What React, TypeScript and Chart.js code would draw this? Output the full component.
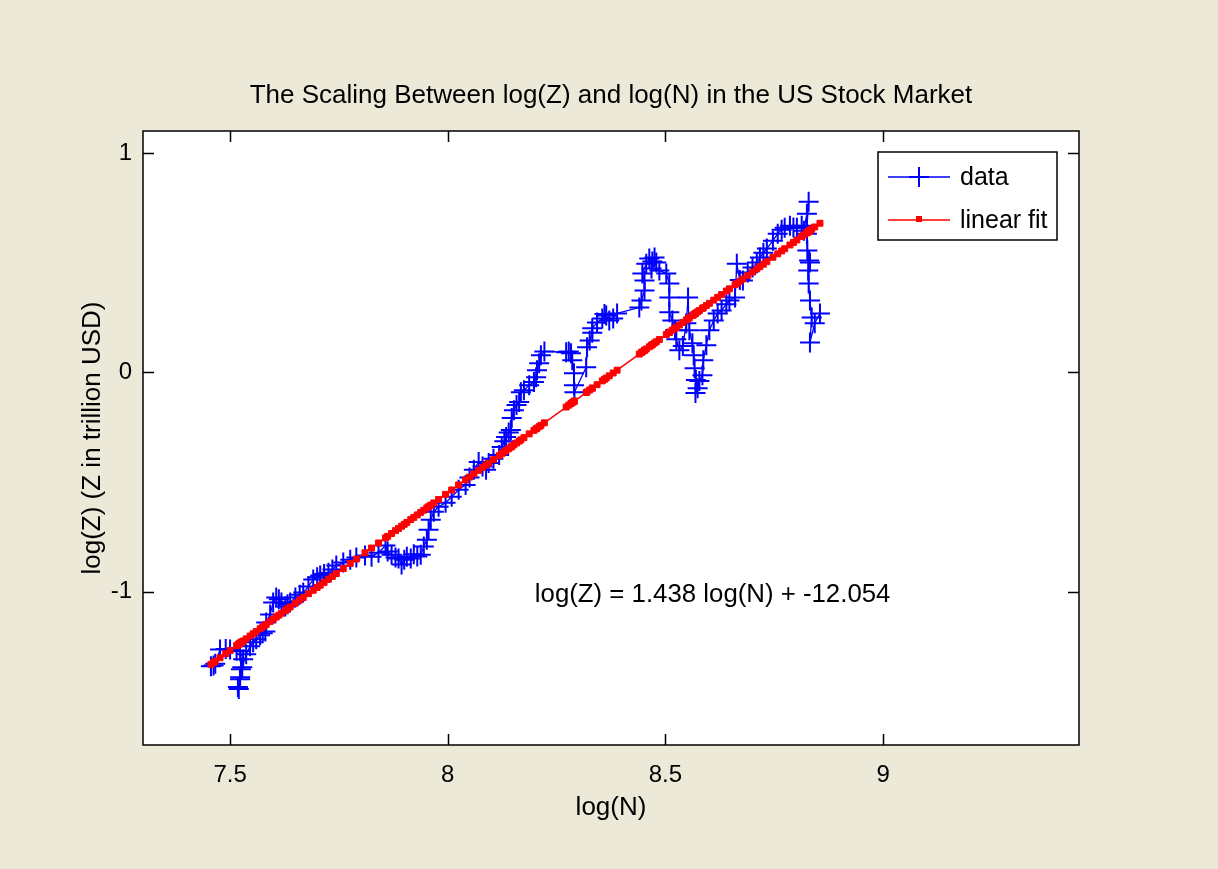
import React, { useEffect, useRef } from 'react';
import { Chart, registerables } from 'chart.js';

Chart.register(...registerables);

// ---- data (path order) ----
const logN = [
  7.456, 7.462, 7.466, 7.477, 7.49, 7.5, 7.515, 7.523, 7.53, 7.525,
  7.523, 7.518, 7.52, 7.523, 7.528, 7.537, 7.546, 7.553, 7.56, 7.569,
  7.575, 7.581, 7.583, 7.592, 7.599, 7.606, 7.612, 7.618, 7.627, 7.632,
  7.638, 7.65, 7.66, 7.668, 7.68, 7.691, 7.7, 7.707, 7.716, 7.726,
  7.735, 7.744, 7.76, 7.776, 7.79, 7.81, 7.825, 7.841, 7.857, 7.862,
  7.871, 7.88, 7.887, 7.894, 7.9, 7.906, 7.915, 7.922, 7.93, 7.938,
  7.945, 7.952, 7.956, 7.961, 7.968, 7.979, 7.995, 8.009, 8.025, 8.041,
  8.05, 8.06, 8.071, 8.08, 8.088, 8.094, 8.105, 8.118, 8.124, 8.13,
  8.134, 8.14, 8.145, 8.147, 8.152, 8.158, 8.164, 8.168, 8.175, 8.187,
  8.198, 8.203, 8.205, 8.21, 8.214, 8.222, 8.272, 8.278, 8.283, 8.286,
  8.29, 8.29, 8.291, 8.318, 8.32, 8.326, 8.332, 8.332, 8.343, 8.355,
  8.36, 8.364, 8.371, 8.38, 8.389, 8.44, 8.445, 8.452, 8.452, 8.447,
  8.456, 8.463, 8.47, 8.475, 8.479, 8.468, 8.486, 8.502, 8.509, 8.509,
  8.509, 8.516, 8.522, 8.525, 8.532, 8.54, 8.548, 8.552, 8.555, 8.562,
  8.565, 8.567, 8.57, 8.569, 8.574, 8.578, 8.585, 8.587, 8.594, 8.601,
  8.611, 8.62, 8.629, 8.64, 8.647, 8.66, 8.664, 8.671, 8.678, 8.689,
  8.7, 8.71, 8.717, 8.725, 8.733, 8.747, 8.758, 8.767, 8.774, 8.786,
  8.794, 8.802, 8.813, 8.818, 8.825, 8.829, 8.825, 8.825, 8.826, 8.83,
  8.832, 8.828, 8.829, 8.832, 8.836, 8.832, 8.843, 8.855,
];
const logZ = [
  -1.341, -1.338, -1.33, -1.264, -1.262, -1.264, -1.27, -1.273, -1.309, -1.355,
  -1.4, -1.436, -1.445, -1.391, -1.345, -1.286, -1.25, -1.232, -1.218, -1.2,
  -1.19, -1.182, -1.141, -1.105, -1.05, -1.027, -1.035, -1.05, -1.068, -1.058,
  -1.05, -1.027, -1.015, -1.005, -0.977, -0.945, -0.935, -0.927, -0.92, -0.914,
  -0.9, -0.882, -0.868, -0.855, -0.845, -0.836, -0.841, -0.823, -0.79, -0.818,
  -0.832, -0.845, -0.85, -0.877, -0.855, -0.841, -0.85, -0.83, -0.84, -0.832,
  -0.795, -0.764, -0.718, -0.673, -0.636, -0.614, -0.595, -0.568, -0.536, -0.514,
  -0.48, -0.445, -0.409, -0.43, -0.445, -0.414, -0.395, -0.377, -0.341, -0.315,
  -0.295, -0.275, -0.264, -0.209, -0.173, -0.15, -0.136, -0.091, -0.082, -0.059,
  -0.045, -0.023, 0.009, 0.041, 0.077, 0.095, 0.091, 0.095, 0.086, 0.055,
  -0.005, -0.059, -0.091, 0.023, 0.114, 0.145, 0.18, 0.2, 0.227, 0.245,
  0.265, 0.259, 0.236, 0.245, 0.268, 0.295, 0.327, 0.373, 0.418, 0.45,
  0.495, 0.518, 0.505, 0.523, 0.5, 0.473, 0.464, 0.45, 0.405, 0.341,
  0.273, 0.236, 0.191, 0.15, 0.1, 0.12, 0.223, 0.341, 0.191, 0.132,
  0.077, 0.018, -0.036, -0.095, -0.073, -0.04, -0.014, 0.055, 0.123, 0.191,
  0.236, 0.268, 0.282, 0.31, 0.327, 0.341, 0.495, 0.42, 0.418, 0.455,
  0.477, 0.5, 0.523, 0.545, 0.564, 0.6, 0.632, 0.65, 0.659, 0.668,
  0.66, 0.659, 0.668, 0.645, 0.723, 0.777, 0.66, 0.632, 0.555, 0.509,
  0.5, 0.464, 0.405, 0.327, 0.25, 0.136, 0.223, 0.268,
];

// linear fit shown in the chart: log(Z) = 1.438 log(N) + -12.054
const fitSlope = 1.438;
const fitIntercept = -12.054;

const xTickValues = [7.5, 8, 8.5, 9];
const xTickLabels = ['7.5', '8', '8.5', '9'];
const yTickValues = [-1, 0, 1];
const yTickLabels = ['-1', '0', '1'];
const xRange = [7.3, 9.45];
const yRange = [-1.7, 1.1];

const titleText = 'The Scaling Between log(Z) and log(N) in the US Stock Market';
const xTitleText = 'log(N)';
const yTitleText = 'log(Z) (Z in trillion USD)';
const legendLabels = ['data', 'linear fit'];
const equationText = 'log(Z) = 1.438 log(N) + -12.054';
const equationAnchor = { x: 8.2, y: -1.014 };

const FONT = '"Liberation Sans", Arial, Helvetica, sans-serif';
const BLUE = '#0000FF';
const RED = '#FF0000';

const framePlugin = {
  id: 'matlabFrame',
  beforeDraw(chart: any) {
    const { ctx, chartArea: a, width, height } = chart;
    ctx.save();
    ctx.fillStyle = '#ECE9D8';
    ctx.fillRect(0, 0, width, height);
    ctx.fillStyle = '#FFFFFF';
    ctx.fillRect(a.left, a.top, a.right - a.left, a.bottom - a.top);
    ctx.restore();
  },
  afterDraw(chart: any) {
    const { ctx, chartArea: a, scales } = chart;
    const xs = scales.x;
    const ys = scales.y;
    ctx.save();
    // axes box
    ctx.strokeStyle = '#000';
    ctx.lineWidth = 1.5;
    ctx.strokeRect(a.left, a.top, a.right - a.left, a.bottom - a.top);
    // inward ticks on all four sides
    const tl = 11;
    ctx.beginPath();
    xTickValues.forEach((v) => {
      const px = Math.round(xs.getPixelForValue(v)) + 0.5;
      ctx.moveTo(px, a.bottom);
      ctx.lineTo(px, a.bottom - tl);
      ctx.moveTo(px, a.top);
      ctx.lineTo(px, a.top + tl);
    });
    yTickValues.forEach((v) => {
      const py = Math.round(ys.getPixelForValue(v)) + 0.5;
      ctx.moveTo(a.left, py);
      ctx.lineTo(a.left + tl, py);
      ctx.moveTo(a.right, py);
      ctx.lineTo(a.right - tl, py);
    });
    ctx.stroke();

    // title
    ctx.fillStyle = '#000';
    ctx.font = `26px ${FONT}`;
    ctx.textAlign = 'center';
    ctx.textBaseline = 'middle';
    ctx.fillText(titleText, (a.left + a.right) / 2, a.top - 35);

    // equation annotation
    ctx.font = `25.8px ${FONT}`;
    ctx.textAlign = 'left';
    ctx.fillText(equationText, xs.getPixelForValue(equationAnchor.x), ys.getPixelForValue(equationAnchor.y));

    // legend
    const lw = 179;
    const lh = 88;
    const lx = a.right - 22 - lw;
    const ly = a.top + 21;
    ctx.fillStyle = '#FFFFFF';
    ctx.fillRect(lx, ly, lw, lh);
    ctx.strokeStyle = '#000';
    ctx.lineWidth = 1.5;
    ctx.strokeRect(lx, ly, lw, lh);
    const rowsY = [ly + 25, ly + 68];
    const colors = [BLUE, RED];
    rowsY.forEach((ry, i) => {
      ctx.strokeStyle = colors[i];
      ctx.lineWidth = 1.5;
      ctx.beginPath();
      ctx.moveTo(lx + 10, ry);
      ctx.lineTo(lx + 72, ry);
      ctx.stroke();
      const mx = lx + 41;
      if (i === 0) {
        ctx.lineWidth = 2;
        ctx.beginPath();
        ctx.moveTo(mx - 10, ry);
        ctx.lineTo(mx + 10, ry);
        ctx.moveTo(mx, ry - 10);
        ctx.lineTo(mx, ry + 10);
        ctx.stroke();
      } else {
        ctx.fillStyle = RED;
        ctx.fillRect(mx - 3, ry - 4, 6, 6);
      }
      ctx.fillStyle = '#000';
      ctx.font = `25px ${FONT}`;
      ctx.textAlign = 'left';
      ctx.textBaseline = 'middle';
      ctx.fillText(legendLabels[i], lx + 82, ry + 1);
    });
    ctx.restore();
  },
};

export default function App() {
  const canvasRef = useRef<HTMLCanvasElement | null>(null);

  useEffect(() => {
    document.body.style.margin = '0';
    const canvas = canvasRef.current;
    if (!canvas) return;

    const dataPoints = logN.map((x, i) => ({ x, y: logZ[i] }));
    const fitX = [...logN].sort((p, q) => p - q);
    const fitPoints = fitX.map((x) => ({ x, y: fitSlope * x + fitIntercept }));

    const chart = new Chart(canvas, {
      type: 'scatter',
      data: {
        datasets: [
          {
            label: legendLabels[1],
            data: fitPoints,
            showLine: true,
            borderColor: RED,
            borderWidth: 1.5,
            pointStyle: 'rect',
            pointRadius: 4.2,
            pointBackgroundColor: RED,
            pointBorderColor: RED,
            pointBorderWidth: 1,
            order: 0,
          },
          {
            label: legendLabels[0],
            data: dataPoints,
            showLine: true,
            borderColor: BLUE,
            borderWidth: 1.3,
            pointStyle: 'cross',
            pointRadius: 10,
            pointBorderColor: BLUE,
            pointBorderWidth: 2,
            order: 1,
          },
        ],
      },
      options: {
        animation: false,
        responsive: false,
        devicePixelRatio: 1,
        events: [],
        layout: { padding: { left: 60, right: 139, top: 131, bottom: 24 } },
        plugins: {
          legend: { display: false },
          title: { display: false },
          tooltip: { enabled: false },
        },
        scales: {
          x: {
            type: 'linear',
            min: xRange[0],
            max: xRange[1],
            grid: { display: false, drawTicks: false },
            border: { display: false },
            afterBuildTicks: (s: any) => {
              s.ticks = xTickValues.map((v) => ({ value: v }));
            },
            afterFit: (s: any) => {
              s.height = 100;
            },
            ticks: {
              autoSkip: false,
              maxRotation: 0,
              padding: 15.6,
              color: '#000',
              font: { family: FONT, size: 24 },
              callback: (v: any) => {
                const i = xTickValues.indexOf(Number(v));
                return i >= 0 ? xTickLabels[i] : '';
              },
            },
            title: {
              display: true,
              text: xTitleText,
              color: '#000',
              font: { family: FONT, size: 26 },
              padding: { top: 0, bottom: 21.4 },
            },
          },
          y: {
            type: 'linear',
            min: yRange[0],
            max: yRange[1],
            grid: { display: false, drawTicks: false },
            border: { display: false },
            afterBuildTicks: (s: any) => {
              s.ticks = yTickValues.map((v) => ({ value: v }));
            },
            afterFit: (s: any) => {
              s.width = 83;
            },
            ticks: {
              autoSkip: false,
              padding: 11,
              color: '#000',
              font: { family: FONT, size: 24 },
              callback: (v: any) => {
                const i = yTickValues.indexOf(Number(v));
                return i >= 0 ? yTickLabels[i] : '';
              },
            },
            title: {
              display: true,
              text: yTitleText,
              color: '#000',
              font: { family: FONT, size: 26 },
              padding: { top: 17.4, bottom: 0 },
            },
          },
        },
      },
      plugins: [framePlugin],
    });

    return () => {
      chart.destroy();
    };
  }, []);

  return (
    <canvas
      ref={canvasRef}
      width={1218}
      height={869}
      style={{ display: 'block', width: '1218px', height: '869px' }}
    />
  );
}
